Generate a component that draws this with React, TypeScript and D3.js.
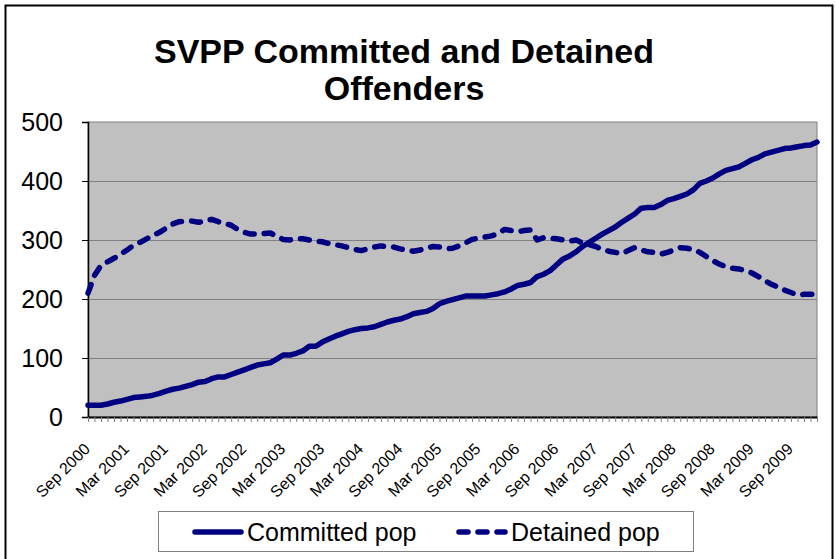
import { useEffect, useRef } from 'react';
import * as d3 from 'd3';

// monthly points, Sep 2000 .. Jan 2010
const monthNames = ['Jan', 'Feb', 'Mar', 'Apr', 'May', 'Jun', 'Jul', 'Aug', 'Sep', 'Oct', 'Nov', 'Dec'];

const committed = [
    20, 20, 20, 22, 25, 27, 30, 33, 34, 35, 37, 40, 44, 47, 49, 52, 55, 59, 60, 65,
    68, 68, 72, 76, 80, 84, 88, 90, 92, 98, 105, 105, 108, 112, 120, 120, 127, 132, 137, 141,
    145, 148, 150, 151, 153, 157, 161, 164, 166, 170, 175, 177, 179, 184, 192, 196, 199, 202, 205, 205,
    205, 205, 207, 209, 212, 217, 223, 225, 228, 238, 242, 248, 258, 268, 273, 280, 289, 296, 303, 310,
    316, 322, 330, 337, 344, 354, 355, 355, 360, 367, 370, 374, 378, 385, 396, 400, 405, 412, 418, 421,
    424, 430, 436, 440, 446, 449, 452, 455, 456, 458, 460, 461, 466,
];

const detained = [
    210, 240, 257, 263, 269, 276, 283, 291, 296, 302, 308, 313, 320, 327, 331, 332, 332, 330, 332, 335,
    331, 328, 325, 318, 313, 310, 310, 311, 312, 306, 301, 300, 302, 302, 300, 298, 297, 294, 292, 290,
    287, 284, 282, 285, 288, 290, 289, 288, 285, 283, 281, 283, 286, 289, 288, 285, 286, 290, 295, 301,
    303, 305, 307, 311, 318, 316, 314, 316, 317, 300, 304, 303, 302, 300, 298, 300, 295, 292, 289, 284,
    281, 279, 277, 282, 287, 283, 280, 279, 276, 279, 283, 287, 286, 284, 279, 272, 265, 259, 255, 252,
    251, 248, 244, 238, 231, 225, 220, 215, 211, 207, 208, 208, 208,
];

const months = committed.map((_, i) => {
    const m = (8 + i) % 12;
    const y = 2000 + Math.floor((8 + i) / 12);
    return monthNames[m] + ' ' + y;
});

const yTicks = [0, 100, 200, 300, 400, 500];
const titleLines = ['SVPP Committed and Detained', 'Offenders'];
const seriesNames = ['Committed pop', 'Detained pop'];

const App = () => {
    const svgRef = useRef(null);
    const width = 836;
    const height = 559;
    const plot = { left: 88, right: 817, top: 122, bottom: 417 };
    const navy = '#000080';
    const font = "Arial, 'Liberation Sans', sans-serif";

    useEffect(() => {
        const svg = d3.select(svgRef.current);
        svg.selectAll('*').remove();

        // outer frame
        svg.append('rect')
            .attr('x', 5.5).attr('y', 5.5)
            .attr('width', 827).attr('height', 560)
            .attr('fill', '#fff')
            .attr('stroke', '#000')
            .attr('stroke-width', 2);

        const xScale = d3.scalePoint()
            .domain(months)
            .range([plot.left, plot.right]);

        const yScale = d3.scaleLinear()
            .domain([0, 500])
            .range([plot.bottom, plot.top]);

        // plot area
        svg.append('rect')
            .attr('x', plot.left).attr('y', plot.top)
            .attr('width', plot.right - plot.left)
            .attr('height', plot.bottom - plot.top)
            .attr('fill', '#c0c0c0')
            .attr('stroke', '#808080')
            .attr('stroke-width', 1);

        // gridlines
        svg.append('g')
            .selectAll('line')
            .data(yTicks.filter(t => t > 0 && t < 500))
            .join('line')
            .attr('x1', plot.left).attr('x2', plot.right)
            .attr('y1', d => Math.round(yScale(d)) + 0.5)
            .attr('y2', d => Math.round(yScale(d)) + 0.5)
            .attr('stroke', '#808080');

        // y axis
        const yAxis = svg.append('g')
            .attr('transform', 'translate(' + plot.left + ',0)')
            .call(d3.axisLeft(yScale).tickValues(yTicks).tickSize(6).tickPadding(19));
        yAxis.select('.domain').attr('stroke', '#000').attr('stroke-width', 1.5);
        yAxis.selectAll('.tick line').attr('stroke', '#000');
        yAxis.selectAll('text')
            .attr('font-family', font)
            .attr('font-size', 25)
            .attr('fill', '#000');

        // x axis
        const xAxis = svg.append('g')
            .attr('transform', 'translate(0,' + plot.bottom + ')')
            .call(d3.axisBottom(xScale).tickSize(5).tickSizeOuter(0).tickFormat(() => ''));
        xAxis.select('.domain').attr('stroke', '#000').attr('stroke-width', 2);
        xAxis.selectAll('.tick line').attr('stroke', '#808080');

        svg.append('g')
            .selectAll('text')
            .data(months.filter((_, i) => i % 6 === 0))
            .join('text')
            .attr('transform', d => 'translate(' + (xScale(d) + 3) + ',' + (plot.bottom + 33) + ') rotate(-45)')
            .attr('text-anchor', 'end')
            .attr('font-family', font)
            .attr('font-size', 16)
            .text(d => d);

        // lines
        const line = d3.line()
            .x((d, i) => xScale(months[i]))
            .y(d => yScale(d));

        svg.append('path')
            .datum(committed)
            .attr('d', line)
            .attr('fill', 'none')
            .attr('stroke', navy)
            .attr('stroke-width', 5.5)
            .attr('stroke-linejoin', 'round')
            .attr('stroke-linecap', 'round');

        svg.append('path')
            .datum(detained)
            .attr('d', line)
            .attr('fill', 'none')
            .attr('stroke', navy)
            .attr('stroke-width', 5.5)
            .attr('stroke-dasharray', '9,10')
            .attr('stroke-linejoin', 'round')
            .attr('stroke-linecap', 'round');

        // title
        svg.append('text')
            .attr('x', 404)
            .attr('y', 63)
            .attr('text-anchor', 'middle')
            .attr('font-family', font)
            .attr('font-weight', 'bold')
            .attr('font-size', 34)
            .selectAll('tspan')
            .data(titleLines)
            .join('tspan')
            .attr('x', 404)
            .attr('dy', (d, i) => (i === 0 ? 0 : 37))
            .text(d => d);

        // legend
        const legend = svg.append('g');
        legend.append('rect')
            .attr('x', 158.5).attr('y', 511.5)
            .attr('width', 535).attr('height', 40)
            .attr('fill', '#fff')
            .attr('stroke', '#808080');

        const items = [
            { name: seriesNames[0], x: 193, dash: null },
            { name: seriesNames[1], x: 457, dash: '9,10' },
        ];
        items.forEach(it => {
            legend.append('line')
                .attr('x1', it.x + 2).attr('x2', it.x + 48)
                .attr('y1', 532).attr('y2', 532)
                .attr('stroke', navy)
                .attr('stroke-width', 5.5)
                .attr('stroke-linecap', 'round')
                .attr('stroke-dasharray', it.dash);
            legend.append('text')
                .attr('x', it.x + 54)
                .attr('y', 541)
                .attr('font-family', font)
                .attr('font-size', 25)
                .text(it.name);
        });
    }, []);

    return (
        <div>
            <svg ref={svgRef} width={width} height={height}
                style={{ position: 'absolute', left: 0, top: 0 }}></svg>
        </div>
    );
};

export default App;
